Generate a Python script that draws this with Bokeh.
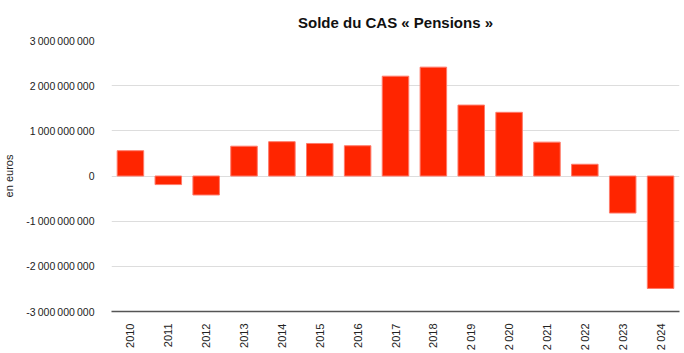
from bokeh.plotting import figure
from bokeh.models import ColumnDataSource, FactorRange, Range1d, FixedTicker, CustomJSTickFormatter
from bokeh.embed import file_html
from bokeh.resources import INLINE
import math

years = ["2010", "2011", "2012", "2013", "2014", "2015", "2016", "2017", "2018",
         "2\u202f019", "2\u202f020", "2\u202f021", "2\u202f022", "2\u202f023", "2\u202f024"]
solde = [560_000_000, -190_000_000, -420_000_000, 660_000_000, 760_000_000, 720_000_000,
         670_000_000, 2_210_000_000, 2_410_000_000, 1_570_000_000, 1_410_000_000,
         750_000_000, 260_000_000, -820_000_000, -2_490_000_000]
y_ticks = [-3_000_000_000, -2_000_000_000, -1_000_000_000, 0,
           1_000_000_000, 2_000_000_000, 3_000_000_000]
title_text = "Solde du CAS \u00ab\u00a0Pensions\u00a0\u00bb"
y_label = "en euros"

FONT = "Liberation Sans"

src = ColumnDataSource(dict(x=years, top=solde))

p = figure(width=684, height=353, x_range=FactorRange(*years),
           y_range=Range1d(-3_000_000_000, 3_000_000_000),
           output_backend="svg", toolbar_location=None,
           min_border_left=10, min_border_right=5, min_border_top=40, min_border_bottom=5)
p.x_range.range_padding = 0
p.x_range.factor_padding = 0

p.vbar(x="x", top="top", bottom=0, width=0.7, source=src,
       fill_color="#ff2500", line_color="#ff7a6a", line_width=1)

p.title.text = title_text
p.title.align = "center"
p.title.text_font = FONT
p.title.text_font_size = "15px"
p.title.text_font_style = "bold"
p.title.text_color = "#111111"
p.title.standoff = 20

p.outline_line_color = None
p.xgrid.grid_line_color = None
p.ygrid.grid_line_color = "#dddddd"
p.ygrid.grid_line_width = 1

p.yaxis.ticker = FixedTicker(ticks=y_ticks)
p.yaxis.formatter = CustomJSTickFormatter(code="""
var s = Math.round(tick).toString();
return s.replace(/\\B(?=(\\d{3})+(?!\\d))/g, '\\u202f');
""")
p.yaxis.axis_line_color = None
p.yaxis.major_tick_line_color = None
p.yaxis.minor_tick_line_color = None
p.yaxis.major_label_text_font = FONT
p.yaxis.major_label_text_font_size = "10.5px"
p.yaxis.major_label_text_color = "#222222"
p.yaxis.major_label_standoff = 11
p.yaxis.axis_label = y_label
p.yaxis.axis_label_text_font = FONT
p.yaxis.axis_label_text_font_size = "11px"
p.yaxis.axis_label_text_font_style = "normal"
p.yaxis.axis_label_text_color = "#222222"
p.yaxis.axis_label_standoff = 8

p.xaxis.axis_line_color = "#555555"
p.xaxis.axis_line_width = 1.5
p.xaxis.major_tick_line_color = None
p.xaxis.minor_tick_line_color = None
p.xaxis.major_label_orientation = math.pi / 2
p.xaxis.major_label_text_font = FONT
p.xaxis.major_label_text_font_size = "11px"
p.xaxis.major_label_text_color = "#222222"
p.xaxis.major_label_standoff = 6

open("out.html", "w").write(file_html(p, INLINE))
